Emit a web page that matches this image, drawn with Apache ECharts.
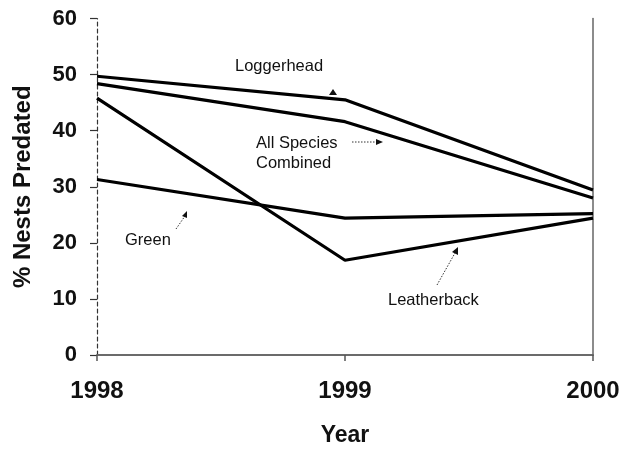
<!DOCTYPE html>
<html>
<head>
<meta charset="utf-8">
<script src="https://cdn.jsdelivr.net/npm/echarts@6/dist/echarts.min.js"></script>
<style>html,body{margin:0;padding:0;background:#fff}#c{width:623px;height:452px}</style>
</head>
<body>
<div id="c"></div>
<script>
const years = ['1998', '1999', '2000'];
const loggerhead = [49.7, 45.5, 29.4];
const allSpecies = [48.4, 41.6, 28.0];
const leatherback = [45.8, 16.9, 24.4];
const green = [31.3, 24.4, 25.2];
const yTicks = [0, 10, 20, 30, 40, 50, 60];

const chart = echarts.init(document.getElementById('c'), null, {renderer: 'canvas'});
const lineSeries = (name, data) => ({
  name, type: 'line', data, symbol: 'none', silent: true,
  lineStyle: {color: '#000', width: 3.2}, xAxisIndex: 0, yAxisIndex: 0
});
const font = 'Liberation Sans, Arial, sans-serif';
chart.setOption({
  animation: false,
  backgroundColor: '#fff',
  grid: {left: 97, right: 30, top: 18.5, bottom: 95.3, containLabel: false},
  xAxis: [{
    type: 'category', data: years, boundaryGap: false, position: 'bottom',
    axisLine: {lineStyle: {color: '#555', width: 1.5}},
    axisTick: {show: true, inside: false, length: 6, lineStyle: {color: '#555', width: 1.5}},
    axisLabel: {fontFamily: font, fontWeight: 'bold', fontSize: 24, color: '#111', margin: 24},
    splitLine: {show: false},
    name: 'Year', nameLocation: 'middle', nameGap: 69,
    nameTextStyle: {fontFamily: font, fontWeight: 'bold', fontSize: 23, color: '#111'}
  }, {
    type: 'category', data: years, boundaryGap: false, position: 'top',
    axisLine: {lineStyle: {color: '#666', width: 1.5}},
    axisTick: {show: false}, axisLabel: {show: false}, splitLine: {show: false}
  }],
  yAxis: [{
    type: 'value', min: 0, max: 60, interval: 10, position: 'left',
    axisLine: {show: true, lineStyle: {color: '#333', width: 1.2, type: [4, 3]}},
    axisTick: {show: true, inside: false, length: 7, lineStyle: {color: '#333', width: 1.2}},
    axisLabel: {fontFamily: font, fontWeight: 'bold', fontSize: 22, color: '#111', margin: 20,
      formatter: v => yTicks.includes(v) ? String(v) : ''},
    splitLine: {show: false},
    name: '% Nests Predated', nameLocation: 'middle', nameGap: 62, nameRotate: 90,
    nameTextStyle: {fontFamily: font, fontWeight: 'bold', fontSize: 24, color: '#111'}
  }, {
    type: 'value', min: 0, max: 60, interval: 10, position: 'right',
    axisLine: {show: true, lineStyle: {color: '#666', width: 1.5}},
    axisTick: {show: false}, axisLabel: {show: false}, splitLine: {show: false}
  }],
  series: [
    lineSeries('Loggerhead', loggerhead),
    lineSeries('All Species Combined', allSpecies),
    lineSeries('Leatherback', leatherback),
    lineSeries('Green', green)
  ],
  graphic: [
    {type: 'text', left: 235, top: 58, style: {text: 'Loggerhead', font: '16.5px ' + font, fill: '#111'}},
    {type: 'polygon', shape: {points: [[329, 95], [337, 95], [333, 89]]}, style: {fill: '#111'}},
    {type: 'text', left: 256, top: 133, style: {text: 'All Species\nCombined', font: '16.5px ' + font, fill: '#111', lineHeight: 20}},
    {type: 'line', shape: {x1: 352, y1: 142, x2: 377, y2: 142}, style: {stroke: '#333', lineWidth: 1, lineDash: [1.5, 1.5]}},
    {type: 'polygon', shape: {points: [[376, 139], [376, 145], [383, 142]]}, style: {fill: '#111'}},
    {type: 'text', left: 125, top: 232, style: {text: 'Green', font: '16.5px ' + font, fill: '#111'}},
    {type: 'line', shape: {x1: 176, y1: 229, x2: 185, y2: 216}, style: {stroke: '#333', lineWidth: 1, lineDash: [1.5, 1.5]}},
    {type: 'polygon', shape: {points: [[182, 216], [187, 218], [187, 211]]}, style: {fill: '#111'}},
    {type: 'text', left: 388, top: 292, style: {text: 'Leatherback', font: '16.5px ' + font, fill: '#111'}},
    {type: 'line', shape: {x1: 437, y1: 285, x2: 455, y2: 253}, style: {stroke: '#333', lineWidth: 1, lineDash: [1.5, 1.5]}},
    {type: 'polygon', shape: {points: [[452, 252], [458, 255], [458, 247]]}, style: {fill: '#111'}}
  ]
});
</script>
</body>
</html>
